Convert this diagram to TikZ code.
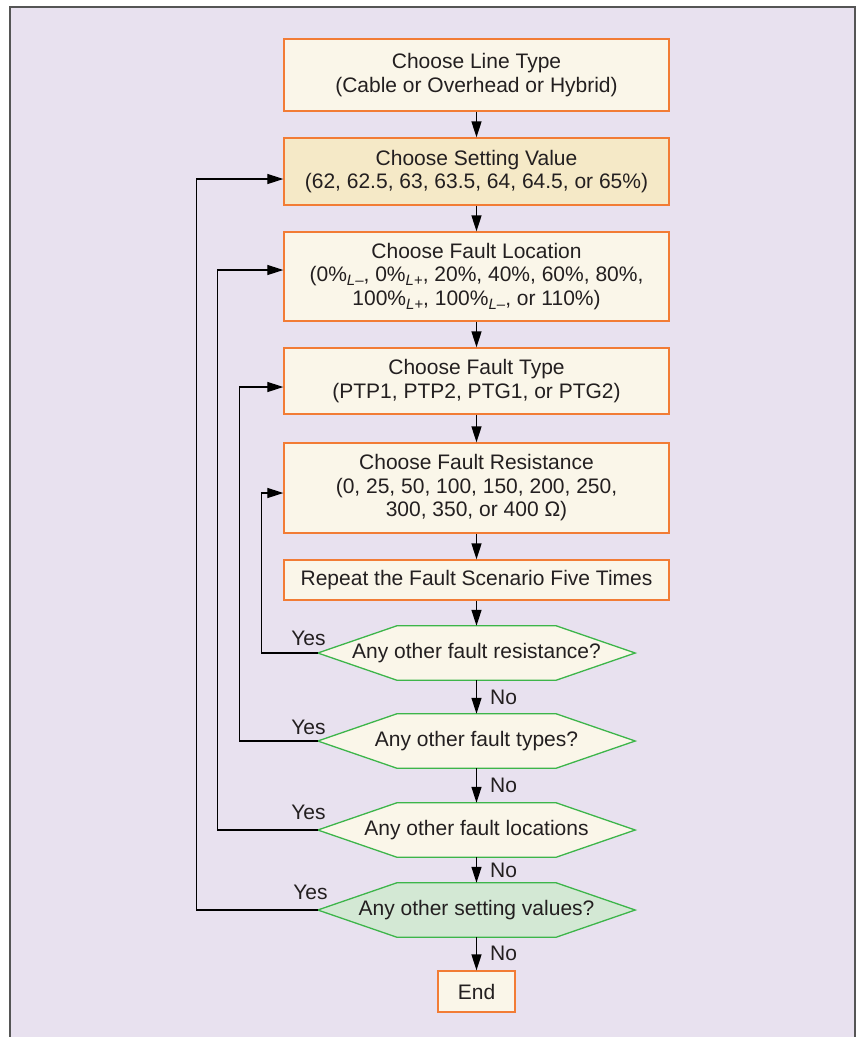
\documentclass[tikz,border=0pt]{standalone}
\usepackage{fontspec}
\setmainfont{Liberation Sans}
\usetikzlibrary{arrows.meta}
\definecolor{lavender}{HTML}{E8E1EF}
\definecolor{framegray}{HTML}{555555}
\definecolor{cream}{HTML}{FAF6E9}
\definecolor{wheat}{HTML}{F5E9C7}
\definecolor{mint}{HTML}{D3E8D4}
\definecolor{boxorange}{HTML}{F27C35}
\definecolor{hexgreen}{HTML}{3DB54A}
\definecolor{ink}{HTML}{231F20}
\pgfdeclarelayer{bg}
\pgfdeclarelayer{hexlayer}
\pgfsetlayers{bg,hexlayer,main}
\newcommand{\subL}[1]{\raisebox{-4pt}{\fontsize{15}{15}\selectfont\itshape L#1}}
\begin{document}
\begin{tikzpicture}[x=1pt,y=-1pt,
  txt/.style={text=ink, font=\fontsize{21}{23.5}\selectfont, align=center},
  stepbox/.style={txt, draw=boxorange, fill=cream, line width=1.3pt,
    minimum width=385pt, inner sep=0pt},
  hexnode/.style={txt, minimum width=317pt, minimum height=54pt, inner sep=0pt},
  hexline/.style={draw=hexgreen, line width=1.3pt},
  conn/.style={draw=black, line width=1.3pt, -{Triangle[length=16pt,width=10pt]}},
  loop/.style={draw=black, line width=1.2pt, -{Triangle[length=16pt,width=10pt]}},
  lbl/.style={txt, inner sep=0pt}]
\useasboundingbox (0,0) rectangle (859,1037);

% page frame
\begin{pgfonlayer}{bg}
  \fill[white] (0,0) rectangle (859,1037);
  \filldraw[fill=lavender, draw=framegray, line width=1.3pt] (10,7) rectangle (855,1050);
\end{pgfonlayer}

% process boxes
\node[stepbox, minimum height=72pt] (b1) at (476.5,75)
  {Choose Line Type\\(Cable or Overhead or Hybrid)};
\node[stepbox, fill=wheat, minimum height=67pt] (b2) at (476.5,171.5)
  {Choose Setting Value\\(62, 62.5, 63, 63.5, 64, 64.5, or 65\%)};
\node[stepbox, minimum height=89pt] (b3) at (476.5,276.5)
  {Choose Fault Location\\(0\%\subL{–}, 0\%\subL{+}, 20\%, 40\%, 60\%, 80\%,\\100\%\subL{+}, 100\%\subL{–}, or 110\%)};
\node[stepbox, minimum height=66pt] (b4) at (476.5,381)
  {Choose Fault Type\\(PTP1, PTP2, PTG1, or PTG2)};
\node[stepbox, minimum height=90pt] (b5) at (476.5,488)
  {Choose Fault Resistance\\(0, 25, 50, 100, 150, 200, 250,\\300, 350, or 400 Ω)};
\node[stepbox, minimum height=40pt] (b6) at (476.5,580)
  {Repeat the Fault Scenario Five Times};

% decisions
\node[hexnode] (h1) at (476.5,653) {Any other fault resistance?};
\node[hexnode] (h2) at (476.5,741) {Any other fault types?};
\node[hexnode] (h3) at (476.5,830) {Any other fault locations};
\node[hexnode] (h4) at (476.5,910) {Any other setting values?};

\begin{pgfonlayer}{hexlayer}
  \foreach \n/\c in {h1/cream, h2/cream, h3/cream, h4/mint}
    \filldraw[hexline, fill=\c] (\n.west) -- ([xshift=79pt]\n.north west)
      -- ([xshift=-79pt]\n.north east) -- (\n.east)
      -- ([xshift=-79pt]\n.south east) -- ([xshift=79pt]\n.south west) -- cycle;
\end{pgfonlayer}

\node[stepbox, minimum width=77pt, minimum height=41pt] (end) at (476.5,991.5) {End};

% main flow
\draw[conn] (b1) -- (b2);
\draw[conn] (b2) -- (b3);
\draw[conn] (b3) -- (b4);
\draw[conn] (b4) -- (b5);
\draw[conn] (b5) -- (b6);
\draw[conn] (b6) -- (h1);
\draw[conn] (h1) -- node[lbl, anchor=west, xshift=13pt] (n1) {No} (h2);
\draw[conn] (h2) -- node[lbl, anchor=west, xshift=13pt] (n2) {No} (h3);
\draw[conn] (h3) -- node[lbl, anchor=west, xshift=13pt] (n3) {No} (h4);
\draw[conn] (h4) -- node[lbl, anchor=west, xshift=13pt] (n4) {No} (end);

% feedback loops
\draw[loop] (h1.west) -- ++(-56,0) |- ([yshift=-5pt]b5.west);
\draw[loop] (h2.west) -- ++(-78,0) |- ([yshift=-6pt]b4.west);
\draw[loop] (h3.west) -- ++(-100,0) |- ([yshift=6.5pt]b3.west);
\draw[loop] (h4.west) -- ++(-121,0) |- ([yshift=-7.5pt]b2.west);

% loop labels
\node[lbl, anchor=base east] (y1) at ([xshift=8pt,yshift=8pt]h1.west) {Yes};
\node[lbl, anchor=base east] (y2) at ([xshift=8pt,yshift=7pt]h2.west) {Yes};
\node[lbl, anchor=base east] (y3) at ([xshift=8pt,yshift=11pt]h3.west) {Yes};
\node[lbl, anchor=base east] (y4) at ([xshift=10pt,yshift=11pt]h4.west) {Yes};
\end{tikzpicture}
\end{document}
